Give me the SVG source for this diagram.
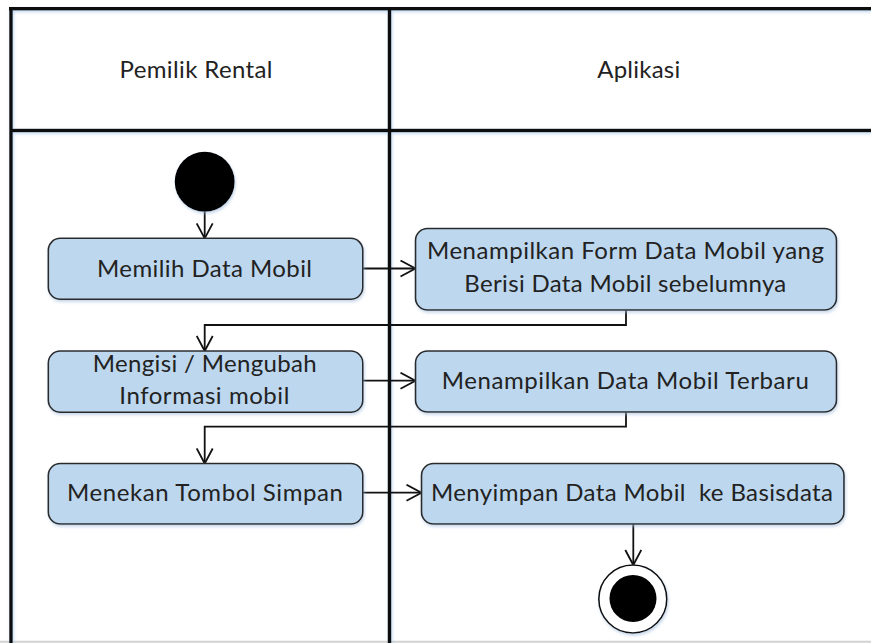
<svg xmlns="http://www.w3.org/2000/svg" width="871" height="643" viewBox="0 0 871 643">
  <style>
    .lane { stroke: #111; stroke-width: 3.6; fill: none; }
    .act { fill: #BDD7EE; stroke: #2b2b2b; stroke-width: 1.6; filter: url(#shade); }
    .lbl { font-family: Lato, "Liberation Sans", Arial, sans-serif; font-size: 24px; fill: #222; text-anchor: middle; }
    .flow { stroke: #111; stroke-width: 1.8; fill: none; marker-end: url(#open); }
  </style>
  <defs>
    <filter id="glow" filterUnits="userSpaceOnUse" x="0" y="0" width="871" height="643">
      <feDropShadow dx="1" dy="1.5" stdDeviation="1.4" flood-color="#a9c9ec" flood-opacity="0.7"/>
    </filter>
    <filter id="shade" x="-5%" y="-10%" width="112%" height="130%">
      <feDropShadow dx="1" dy="2" stdDeviation="1.6" flood-color="#9bb7d8" flood-opacity="0.55"/>
    </filter>
    <marker id="open" markerUnits="userSpaceOnUse" markerWidth="18" markerHeight="18" viewBox="0 0 18 18" refX="16" refY="9" orient="auto">
      <path d="M1,1 L16,9 L1,17" fill="none" stroke="#111" stroke-width="1.8"/>
    </marker>
  </defs>

  <rect width="871" height="643" fill="#fff"/>

  <!-- swimlane frame -->
  <g id="swimlanes">
    <line x1="0" y1="641.8" x2="871" y2="641.8" stroke="#d2d2d2" stroke-width="2"/>
    <g filter="url(#glow)">
      <line class="lane" x1="9" y1="8.8" x2="871" y2="8.8"/>
      <line class="lane" x1="11" y1="130.5" x2="871" y2="130.5"/>
      <line class="lane" x1="11" y1="7" x2="11" y2="643"/>
      <line class="lane" x1="389.5" y1="7" x2="389.5" y2="643"/>
    </g>
    <text class="lbl" x="196" y="77.7" textLength="153">Pemilik Rental</text>
    <text class="lbl" x="638.7" y="77.7" textLength="83">Aplikasi</text>
  </g>

  <!-- control flow -->
  <g id="connectors">
    <line class="flow" x1="204.7" y1="211" x2="204.7" y2="238.3"/>
    <line class="flow" x1="363" y1="268.5" x2="415.5" y2="268.5"/>
    <polyline class="flow" points="626,310 626,325 204.7,325 204.7,351"/>
    <line class="flow" x1="363" y1="380.7" x2="415.5" y2="380.7"/>
    <polyline class="flow" points="626,412 626,426.7 204.7,426.7 204.7,463.5"/>
    <line class="flow" x1="363" y1="492.7" x2="421.5" y2="492.7"/>
    <line class="flow" x1="633.3" y1="524" x2="633.3" y2="565"/>
  </g>

  <g id="start">
    <circle cx="204.7" cy="181.7" r="30" fill="#000" filter="url(#shade)"/>
  </g>

  <g id="memilih-data-mobil">
    <rect class="act" x="48.3" y="238.3" width="314.5" height="61" rx="12"/>
    <text class="lbl" x="204.5" y="276.7" textLength="215">Memilih Data Mobil</text>
  </g>

  <g id="menampilkan-form">
    <rect class="act" x="415.5" y="228.5" width="421" height="81.5" rx="12"/>
    <text class="lbl" x="625.5" y="259.3" textLength="397">Menampilkan Form Data Mobil yang</text>
    <text class="lbl" x="625.3" y="291.7" textLength="322">Berisi Data Mobil sebelumnya</text>
  </g>

  <g id="mengisi-informasi">
    <rect class="act" x="48.3" y="351" width="314.5" height="61.3" rx="12"/>
    <text class="lbl" x="204.7" y="371.7" textLength="224">Mengisi / Mengubah</text>
    <text class="lbl" x="204.3" y="403.5" textLength="170">Informasi mobil</text>
  </g>

  <g id="menampilkan-terbaru">
    <rect class="act" x="415.5" y="351" width="421" height="61" rx="12"/>
    <text class="lbl" x="625.3" y="389.3" textLength="367">Menampilkan Data Mobil Terbaru</text>
  </g>

  <g id="menekan-simpan">
    <rect class="act" x="48.3" y="463.5" width="314.5" height="60.5" rx="12"/>
    <text class="lbl" x="205" y="501" textLength="276">Menekan Tombol Simpan</text>
  </g>

  <g id="menyimpan-basisdata">
    <rect class="act" x="421.5" y="463.5" width="422.5" height="60.5" rx="12"/>
    <text class="lbl" x="632" y="501" textLength="402" xml:space="preserve">Menyimpan Data Mobil  ke Basisdata</text>
  </g>

  <g id="end">
    <circle cx="632.8" cy="599" r="34" fill="#fff" stroke="#111" stroke-width="1.6" filter="url(#shade)"/>
    <circle cx="633" cy="598.5" r="23.5" fill="#000"/>
  </g>
</svg>
